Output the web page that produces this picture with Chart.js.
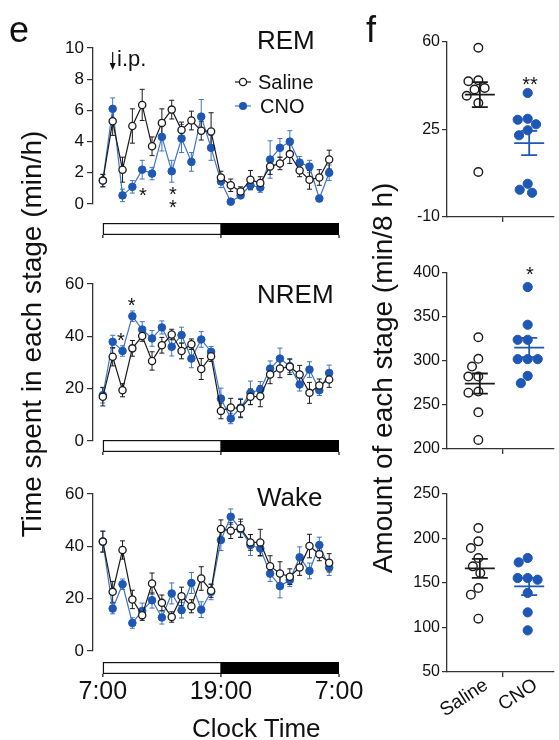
<!DOCTYPE html>
<html><head><meta charset="utf-8">
<script src="https://cdn.jsdelivr.net/npm/chart.js@4.4.1/dist/chart.umd.min.js"></script>
<style>
html,body{margin:0;padding:0;background:#fff}
#wrap{position:relative;width:559px;height:740px;overflow:hidden;background:#fff;font-family:"Liberation Sans",Arial,Helvetica,sans-serif;color:#111}
#wrap canvas{position:absolute}
.tx{position:absolute;white-space:nowrap;line-height:1}
</style></head><body>
<div id="wrap">
<canvas id="cRem" width="372" height="230" style="left:0;top:20px"></canvas>
<canvas id="cNrem" width="372" height="220" style="left:0;top:250px"></canvas>
<canvas id="cWake" width="372" height="270" style="left:0;top:470px"></canvas>
<canvas id="cF1" width="164" height="202" style="left:395px;top:28px"></canvas>
<canvas id="cF2" width="164" height="207" style="left:395px;top:258px"></canvas>
<canvas id="cF3" width="164" height="262" style="left:395px;top:478px"></canvas>
</div>
<script>
// ---------- data ----------
const groups = ['Saline', 'CNO'];
const hours = [0,1,2,3,4,5,6,7,8,9,10,11,12,13,14,15,16,17,18,19,20,21,22,23]; // hours after 7:00
const timeTicks = [0, 12, 24];
const timeTickLabels = ['7:00', '19:00', '7:00'];
const lightPhase = [0, 12];
const darkPhase = [12, 24];
const injectionHour = 1;

const remSaline    = [1.5,5.3,2.2,5.0,6.35,3.7,5.2,6.05,4.75,5.35,4.7,4.65,1.7,1.2,0.8,1.55,1.35,2.4,2.6,3.2,2.15,1.55,1.7,2.85];
const remSalineSem = [0.4,0.9,0.8,1.1,1.0,0.6,0.9,0.6,0.5,0.6,0.6,1.2,0.4,0.4,0.3,0.6,0.4,0.5,0.4,0.6,0.4,0.6,0.5,0.6];
const remCno       = [1.5,6.1,0.55,1.1,2.2,1.95,4.3,2.1,4.2,2.7,5.6,3.6,1.45,0.15,0.55,1.2,1.05,2.85,3.6,4.0,2.65,2.4,0.35,2.0];
const remCnoSem    = [0.4,0.7,0.4,0.4,0.6,0.4,0.9,0.7,0.9,0.6,1.1,0.8,0.4,0.15,0.2,0.3,0.3,1.2,0.6,0.7,0.4,0.4,0.2,0.5];

const nremSaline    = [16.9,32.2,19.4,35.4,40.1,30.6,36.6,40.7,34.4,37.0,27.5,32.4,11.5,12.8,12.4,16.9,17.1,25.4,27.7,28.4,25.4,18.4,21.2,23.5];
const nremSalineSem = [3.5,3.5,2.5,3,2,3.5,3,2,3,2,4,2,3,3.5,3.5,3,4,3.5,3.5,3,3.5,4,2.5,3];
const nremCno       = [17.5,37.9,34.4,47.7,42.6,39.2,43.4,36.0,40.5,31.5,38.8,34.1,16.2,8.6,12.8,18.4,19.7,27.6,31.5,28.6,21.6,27.3,19.4,26.0];
const nremCnoSem    = [3,2.5,2,2,3,3,2.5,3.5,3,3.5,3,2,4,2,3.5,4.5,3,3,4,2.5,2.5,3,2,3];

const wakeSaline    = [41.8,22.6,38.6,19.7,13.7,25.8,18.4,13.0,20.9,17.1,27.7,23.0,46.6,46.0,46.9,41.5,41.5,32.4,29.6,28.4,31.9,40.1,37.0,33.7];
const wakeSalineSem = [4,4,3.5,3.5,2,4,3,2,3.5,2.5,4.5,2.5,3.5,3,3.5,3,5,4,4.5,3,3,4.5,2.5,3.5];
const wakeCno       = [41.8,16.2,25.5,10.7,15.3,19.4,12.8,22.0,15.6,26.0,15.8,22.6,42.4,51.3,46.5,40.5,39.2,29.6,24.8,27.1,35.8,30.6,40.5,31.9];
const wakeCnoSem    = [4,2,2,2,3,3,2.5,4,3,4,3,3,4,3,3,4,3,3,4.5,2.5,4,3,3,3];

const remTotalSaline  = [57.7,44.7,44.3,41.6,41.0,38.5,35.6,8.0];
const remTotalCno     = [39.6,29.3,28.9,27.1,24.7,22.7,3.3,0.9,-0.3];
const nremTotalSaline = [327,302.5,293.7,282.3,282.3,265.3,264,241.7,210.3];
const nremTotalCno    = [384,341.2,324.1,324.1,302.1,302.1,302.1,283.1,274.8];
const wakeTotalSaline = [211.8,196.8,189.3,178.1,168.7,161.2,144.4,136.9,109.9];
const wakeTotalCno    = [178.1,173.2,155.6,153.7,155.6,138.8,117,96.8];

// ---------- styles ----------
const salineColor = '#1a1a1a';
const cnoColor = '#1f57b5';
const cnoLine = '#3f74c8';
const axisColor = '#333';
Chart.defaults.font.family = '"Liberation Sans", Arial, Helvetica, sans-serif';
Chart.defaults.color = '#111';

// ---------- plugins ----------
const errorBars = { id:'errorBars', beforeDatasetsDraw(chart){
  const {ctx, scales:{x, y}} = chart;
  chart.data.datasets.slice().reverse().forEach(ds => {
    if (!ds.sem) return;
    ctx.save(); ctx.strokeStyle = ds.errColor; ctx.lineWidth = 1;
    ds.data.forEach((p, i) => {
      const px = x.getPixelForValue(p.x);
      const t = y.getPixelForValue(p.y + ds.sem[i]);
      const b = y.getPixelForValue(p.y - ds.sem[i]);
      ctx.beginPath();
      ctx.moveTo(px, t); ctx.lineTo(px, b);
      ctx.moveTo(px - 2.5, t); ctx.lineTo(px + 2.5, t);
      ctx.moveTo(px - 2.5, b); ctx.lineTo(px + 2.5, b);
      ctx.stroke();
    });
    ctx.restore();
  });
}};

const lightDark = { id:'lightDark', afterDraw(chart, args, o){
  if (!o || o.offset == null) return;
  const {ctx, chartArea, scales:{x}} = chart;
  const a = x.getPixelForValue(lightPhase[0]), m = x.getPixelForValue(lightPhase[1]), e = x.getPixelForValue(darkPhase[1]);
  const top = chartArea.bottom + o.offset, h = 12;
  ctx.save();
  ctx.fillStyle = '#fff'; ctx.fillRect(a, top, m - a, h);
  ctx.strokeStyle = '#111'; ctx.lineWidth = 1.2;
  ctx.strokeRect(a + 0.6, top + 0.6, m - a - 0.6, h - 1.2);
  ctx.fillStyle = '#000'; ctx.fillRect(m, top, e - m, h);
  ctx.beginPath();
  [a, m, e].forEach(px => { ctx.moveTo(px, top + h); ctx.lineTo(px, top + h + 3); });
  ctx.stroke();
  ctx.restore();
}};

const remExtras = { id:'remExtras', afterDraw(chart){
  const {ctx, scales:{x}} = chart;
  ctx.save();
  const ax = x.getPixelForValue(injectionHour);
  ctx.strokeStyle = '#111'; ctx.fillStyle = '#111'; ctx.lineWidth = 1.2;
  ctx.beginPath(); ctx.moveTo(ax, 32); ctx.lineTo(ax, 45); ctx.stroke();
  ctx.beginPath(); ctx.moveTo(ax - 3, 43); ctx.lineTo(ax + 3, 43); ctx.lineTo(ax, 50); ctx.closePath(); ctx.fill();
  // legend markers
  ctx.lineWidth = 1.2;
  ctx.strokeStyle = salineColor; ctx.beginPath(); ctx.moveTo(235, 62); ctx.lineTo(251, 62); ctx.stroke();
  ctx.fillStyle = '#fff'; ctx.lineWidth = 1.3; ctx.beginPath(); ctx.arc(243, 62, 3.6, 0, Math.PI * 2); ctx.fill(); ctx.stroke();
  ctx.strokeStyle = cnoLine; ctx.lineWidth = 1.2; ctx.beginPath(); ctx.moveTo(235, 86); ctx.lineTo(251, 86); ctx.stroke();
  ctx.fillStyle = cnoColor; ctx.beginPath(); ctx.arc(243, 86, 4, 0, Math.PI * 2); ctx.fill();
  ctx.restore();
}};

const meanSem = { id:'meanSem', afterDatasetsDraw(chart){
  const {ctx, scales:{x, y}} = chart;
  chart.data.datasets.forEach(ds => {
    const v = ds.data.map(p => p.y), n = v.length;
    const m = v.reduce((s, q) => s + q, 0) / n;
    const sd = Math.sqrt(v.reduce((s, q) => s + (q - m) ** 2, 0) / (n - 1));
    const sem = sd / Math.sqrt(n);
    const cx = x.getPixelForValue(ds.center) + 1.5;
    const ym = y.getPixelForValue(m), yt = y.getPixelForValue(m + sem), yb = y.getPixelForValue(m - sem);
    ctx.save(); ctx.strokeStyle = ds.meanColor; ctx.lineWidth = 1.8;
    ctx.beginPath();
    ctx.moveTo(cx - 15, ym); ctx.lineTo(cx + 15, ym);
    ctx.moveTo(cx, yt); ctx.lineTo(cx, yb);
    ctx.moveTo(cx - 8, yt); ctx.lineTo(cx + 8, yt);
    ctx.moveTo(cx - 8, yb); ctx.lineTo(cx + 8, yb);
    ctx.stroke(); ctx.restore();
  });
}};

// ---------- chart builders ----------
function timeChart(id, cfg){
  return new Chart(document.getElementById(id), {
    type: 'line',
    data: { datasets: [
      { label: groups[0], data: hours.map((h, i) => ({x: h, y: cfg.sal[i]})), sem: cfg.salSem, errColor: salineColor,
        borderColor: salineColor, borderWidth: 1.2, pointRadius: 3.6, pointBackgroundColor: '#fff', pointBorderColor: salineColor, pointBorderWidth: 1.3, clip: false, tension: 0 },
      { label: groups[1], data: hours.map((h, i) => ({x: h, y: cfg.cno[i]})), sem: cfg.cnoSem, errColor: cnoLine,
        borderColor: cnoLine, borderWidth: 1.2, pointRadius: 3.8, pointBackgroundColor: cnoColor, pointBorderColor: cnoColor, pointBorderWidth: 1, clip: false, tension: 0 }
    ]},
    options: {
      responsive: false, animation: false, devicePixelRatio: 1, events: [],
      layout: { padding: { top: cfg.padTop, right: 33, left: 0, bottom: 0 } },
      plugins: { legend: { display: false }, tooltip: { enabled: false }, lightDark: { offset: cfg.barOffset } },
      scales: {
        x: { type: 'linear', min: -1, max: 24,
          afterBuildTicks: s => { s.ticks = timeTicks.map(v => ({value: v})); },
          afterFit: s => { s.height = cfg.xHeight; },
          grid: { display: false, drawTicks: true, tickLength: 26 }, border: { display: false },
          ticks: { display: cfg.showX, autoSkip: false, maxRotation: 0, padding: 0, font: { size: 25 }, color: '#111',
            callback: v => timeTickLabels[timeTicks.indexOf(v)] } },
        y: { min: 0, max: cfg.yMax,
          afterFit: s => { s.width = 93; },
          ticks: { stepSize: cfg.step, padding: 3, font: { size: 17 }, color: '#111' },
          grid: { drawOnChartArea: false, drawTicks: true, tickLength: 6, color: axisColor, lineWidth: 1.2 },
          border: { display: true, color: axisColor, width: 1.3 } }
      }
    },
    plugins: [errorBars, lightDark].concat(cfg.extra || [])
  });
}

function dotChart(id, cfg){
  return new Chart(document.getElementById(id), {
    type: 'scatter',
    data: { datasets: [
      { label: groups[0], center: 1, data: cfg.sal.map(v => ({x: 1, y: v})), pointRadius: 4.3, pointBackgroundColor: '#fff',
        pointBorderColor: salineColor, pointBorderWidth: 1.4, meanColor: salineColor, clip: false },
      { label: groups[1], center: 2, data: cfg.cno.map(v => ({x: 2, y: v})), pointRadius: 4.6, pointBackgroundColor: cnoColor,
        pointBorderColor: cnoColor, pointBorderWidth: 1, meanColor: cnoColor, clip: false }
    ]},
    options: {
      responsive: false, animation: false, devicePixelRatio: 1, events: [],
      layout: { padding: { top: cfg.padTop, right: 0, left: 0, bottom: 0 } },
      plugins: { legend: { display: false }, tooltip: { enabled: false } },
      scales: {
        x: { type: 'linear', min: 0.365, max: 2.519,
          afterBuildTicks: s => { s.ticks = [{value: 1}, {value: 1.5}, {value: 2}]; },
          afterFit: s => { s.height = cfg.xHeight; },
          grid: { display: true, drawOnChartArea: false, drawTicks: true, tickLength: 5, lineWidth: 1.3,
            tickColor: c => (c.tick && c.tick.value === 1.5) ? axisColor : 'rgba(0,0,0,0)' },
          border: { display: true, color: axisColor, width: 1.3 },
          ticks: { autoSkip: false, minRotation: 33, maxRotation: 33, padding: -3, labelOffset: 8, font: { size: 19 }, color: '#111',
            callback: v => cfg.showX ? (v === 1 ? groups[0] : v === 2 ? groups[1] : '') : '' } },
        y: { min: cfg.min, max: cfg.max,
          afterFit: s => { s.width = 52; },
          ticks: { stepSize: cfg.step, padding: 2, font: { size: 16 }, color: '#111' },
          grid: { drawOnChartArea: false, drawTicks: true, tickLength: 5, color: axisColor, lineWidth: 1.2 },
          border: { display: true, color: axisColor, width: 1.3 } }
      }
    },
    plugins: [meanSem]
  });
}

// beeswarm spreading of dots, computed with the chart's own scales
function swarm(chart, radius){
  const xs = chart.scales.x, ys = chart.scales.y;
  const D = 2 * radius + 0.8;
  chart.data.datasets.forEach(ds => {
    const cx = xs.getPixelForValue(ds.center);
    const items = ds.data.map((p, i) => ({i, py: ys.getPixelForValue(p.y)})).sort((a, b) => a.py - b.py);
    const placed = [];
    items.forEach(it => {
      const near = placed.filter(q => Math.abs(q.py - it.py) < D);
      const w = q => Math.sqrt(D * D - (q.py - it.py) ** 2);
      const cands = [0];
      near.forEach(q => { cands.push(q.dx - w(q), q.dx + w(q)); });
      cands.sort((a, b) => Math.abs(a) - Math.abs(b) || a - b);
      let dx = 0;
      for (const c of cands) { if (near.every(q => Math.abs(c - q.dx) >= w(q) - 1e-6)) { dx = c; break; } }
      it.dx = dx; placed.push(it);
      ds.data[it.i].x = xs.getValueForPixel(cx + dx);
    });
  });
  chart.update('none');
}

// ---------- charts ----------
timeChart('cRem',  { sal: remSaline, salSem: remSalineSem, cno: remCno, cnoSem: remCnoSem, yMax: 10, step: 2, padTop: 28, xHeight: 46, barOffset: 19, showX: false, extra: [remExtras] });
timeChart('cNrem', { sal: nremSaline, salSem: nremSalineSem, cno: nremCno, cnoSem: nremCnoSem, yMax: 60, step: 20, padTop: 34, xHeight: 29, barOffset: -1, showX: false });
timeChart('cWake', { sal: wakeSaline, salSem: wakeSalineSem, cno: wakeCno, cnoSem: wakeCnoSem, yMax: 60, step: 20, padTop: 24, xHeight: 89, barOffset: 11, showX: true });

const f1 = dotChart('cF1', { sal: remTotalSaline, cno: remTotalCno, min: -10, max: 60, step: 35, padTop: 14, xHeight: 13, showX: false });
const f2 = dotChart('cF2', { sal: nremTotalSaline, cno: nremTotalCno, min: 200, max: 400, step: 50, padTop: 15, xHeight: 16, showX: false });
const f3 = dotChart('cF3', { sal: wakeTotalSaline, cno: wakeTotalCno, min: 50, max: 250, step: 50, padTop: 16, xHeight: 68, showX: true });
[f1, f2, f3].forEach(c => swarm(c, 4.6));

// ---------- text ----------
const wrap = document.getElementById('wrap');
function text(str, x, baseline, size, align){
  const d = document.createElement('div'); d.className = 'tx'; d.textContent = str;
  d.style.fontSize = size + 'px';
  d.style.top = (baseline - 0.8465 * size) + 'px';
  if (align === 'center') { d.style.left = (x - 50) + 'px'; d.style.width = '100px'; d.style.textAlign = 'center'; }
  else d.style.left = x + 'px';
  wrap.appendChild(d); return d;
}
function star(str, cx, cy){ return text(str, cx, cy + 0.58 * 20, 20, 'center'); }
function vtext(str, cx, cy, size){
  const d = document.createElement('div'); d.className = 'tx'; d.textContent = str;
  d.style.fontSize = size + 'px'; d.style.width = '600px'; d.style.textAlign = 'center';
  d.style.left = (cx - 300) + 'px'; d.style.top = (cy - size / 2) + 'px';
  d.style.transform = 'rotate(-90deg)';
  wrap.appendChild(d); return d;
}

text('e', 9, 42, 36);
text('f', 366, 42, 36);
text('REM', 257, 49.5, 26);
text('NREM', 257, 303, 26);
text('Wake', 257, 506, 26);
text('i.p.', 117, 67, 22);
text('Saline', 258, 88.5, 20);
text('CNO', 260, 113, 20);
text('Clock Time', 192, 737, 26);
vtext('Time spent in each stage (min/h)', 32.3, 334, 28);
vtext('Amount of each stage (min/8 h)', 383.3, 378, 28);
star('*', 143, 190);
star('*', 173, 189);
star('*', 173, 202);
star('*', 131.7, 300);
star('*', 121, 335);
star('**', 530, 79);
star('*', 530, 269);
</script>
</body></html>
